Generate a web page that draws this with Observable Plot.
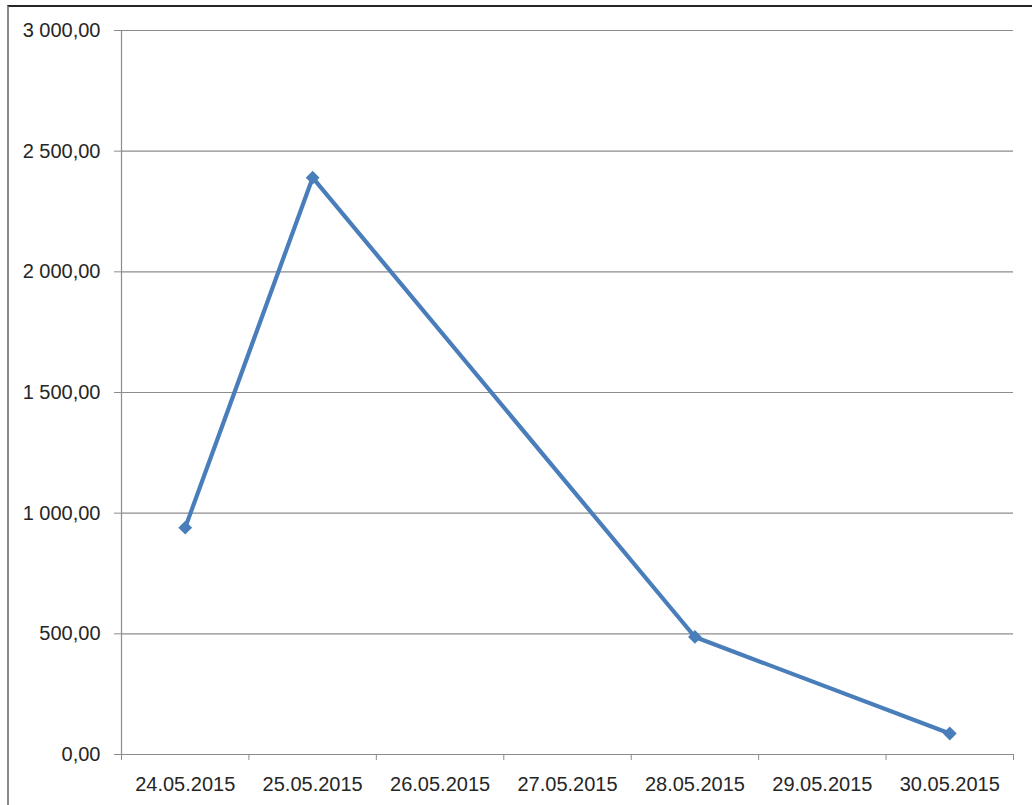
<!DOCTYPE html>
<html>
<head>
<meta charset="utf-8">
<script src="https://cdn.jsdelivr.net/npm/d3@7"></script>
<script src="https://cdn.jsdelivr.net/npm/@observablehq/plot@0.6"></script>
<style>
  html, body { margin: 0; padding: 0; background: #fff; }
  #wrap { position: relative; width: 1032px; height: 805px; overflow: hidden; }
  #frame { position: absolute; left: 7px; top: 5px; width: 1100px; height: 900px;
           border-top: 2px solid #262626; border-left: 2px solid #8a8a8a; box-sizing: border-box; }
  #chart { position: absolute; left: 0; top: 0; }
</style>
</head>
<body>
<div id="wrap"><div id="frame"></div><div id="chart"></div></div>
<script>
const categories = ["24.05.2015", "25.05.2015", "26.05.2015", "27.05.2015", "28.05.2015", "29.05.2015", "30.05.2015"];
const values = [940, 2390, null, null, 487, null, 87];
const yTicks = [0, 500, 1000, 1500, 2000, 2500, 3000];

const data = categories.map((c, i) => ({i, c, v: values[i]})).filter(d => d.v != null);
const centers = categories.map((_, i) => i);
const boundaries = d3.range(categories.length + 1).map(i => i - 0.5);

const fmt = d3.formatLocale({decimal: ",", thousands: " ", grouping: [3]}).format(",.2f");
const gray = "#8c8c8c";
const blue = "#4a7ebb";

const chart = Plot.plot({
  width: 1032,
  height: 805,
  marginLeft: 121,
  marginRight: 19,
  marginTop: 30,
  marginBottom: 51,
  x: {type: "linear", domain: [boundaries[0], boundaries[boundaries.length - 1]], label: null},
  y: {domain: [0, 3000], label: null},
  style: {fontFamily: "'Liberation Sans', Arial, sans-serif", fontSize: "20px", color: "#262626", background: "transparent", overflow: "visible"},
  marks: [
    Plot.gridY(yTicks, {stroke: gray, strokeOpacity: 1, strokeWidth: 1.2}),
    Plot.ruleX([boundaries[0]], {stroke: gray, strokeWidth: 1.2}),
    Plot.ruleY([0], {stroke: gray, strokeWidth: 1.2}),
    Plot.axisY(yTicks, {tickSize: 7, tickPadding: 14, tickFormat: fmt, stroke: gray, fill: "#262626"}),
    Plot.axisX(boundaries, {tickSize: 6, tickFormat: () => "", stroke: gray}),
    Plot.axisX(centers, {tickSize: 0, tickPadding: 22, tickFormat: i => categories[i], fill: "#262626"}),
    Plot.line(data, {x: "i", y: "v", stroke: blue, strokeWidth: 4.2}),
    Plot.dot(data, {x: "i", y: "v", symbol: "square", rotate: 45, r: 5.5, fill: blue, stroke: "none"})
  ]
});
document.getElementById("chart").appendChild(chart);
</script>
</body>
</html>
